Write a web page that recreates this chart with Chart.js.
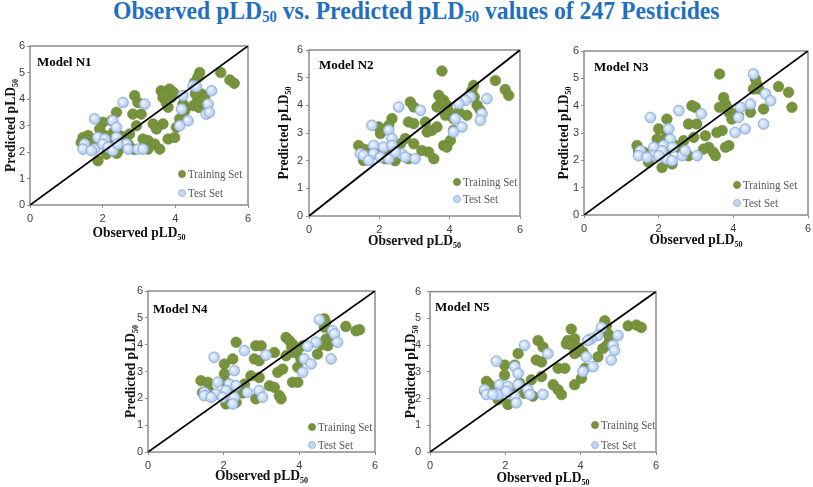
<!DOCTYPE html>
<html><head><meta charset="utf-8">
<script src="https://cdn.jsdelivr.net/npm/chart.js@4"></script>
<style>
html,body{margin:0;padding:0;width:813px;height:487px;overflow:hidden;background:#fff;}
#title{position:absolute;left:10px;top:-2px;width:813px;text-align:center;font:bold 26px "Liberation Serif","Times New Roman",serif;color:#1f70c1;line-height:26px;white-space:nowrap;}
#title .inner{display:inline-block;transform:scaleX(0.91);transform-origin:50% 50%;}
#title sub{font-size:0.62em;vertical-align:baseline;position:relative;top:0.18em;}
canvas{position:absolute;}
</style></head>
<body>
<div id="title"><span class="inner">Observed pLD<sub>50</sub> vs. Predicted pLD<sub>50</sub> values of 247 Pesticides</span></div>
<canvas id="c1"></canvas><canvas id="c2"></canvas><canvas id="c3"></canvas><canvas id="c4"></canvas><canvas id="c5"></canvas>
<script>
// ---------- DATA ----------
const modelNames = ['Model N1','Model N2','Model N3','Model N4','Model N5'];
const xTicks = [0, 2, 4, 6];
const yTicks = [0, 1, 2, 3, 4, 5, 6];
const diagonal = [0, 6];

const n1TrainObs  = [4.67,5.25,5.5,5.62,4.62,4.53,4.72,4.81,4.62,4.49,3.61,3.84,3.66,3.89,3.8,4.21,4.26,4.12,4.03,3.8,3.98,3.39,3.66,3.48,3.25,3.43,3.57,3.25,2.88,2.97,2.83,3.06,2.93,2.74,2.61,2.38,2.24,2.01,1.92,2.06,1.46,1.6,1.41,2.42,2.1,1.87,2.51,2.24,3.11,2.39,2.87,4.65,3.7,3.95,3.75,4.55,4.7,1.55,1.7,2.2,2.5,2.7,2.3];
const n1TrainPred = [5.0,5.0,4.72,4.59,4.82,4.63,4.19,4.06,4.0,3.75,4.31,4.38,4.06,4.06,3.69,3.81,3.56,3.25,2.93,2.49,2.55,3.06,3.06,2.87,2.43,2.3,2.11,2.11,4.13,3.87,3.43,3.43,2.99,2.68,2.43,3.5,3.18,3.12,2.87,2.62,2.55,2.62,2.36,2.05,1.92,1.67,2.18,2.3,2.49,1.95,2.1,3.68,4.2,4.25,3.85,4.2,3.9,2.45,2.3,2.45,2.6,2.3,2.75];
const n1TestObs   = [4.49,4.58,5.0,4.21,4.17,4.9,4.85,4.94,4.35,4.12,3.16,2.56,1.78,2.28,2.38,1.87,2.38,2.06,1.5,1.46,1.78,2.01,2.15,2.28,2.65,2.7,2.97,3.11,1.69,2.42];
const n1TestPred  = [4.5,4.47,4.31,4.13,3.62,3.81,3.43,3.5,3.18,2.99,3.81,3.87,3.25,3.18,2.93,2.55,2.55,2.49,2.3,2.11,2.11,2.3,2.18,2.05,2.3,2.11,2.11,2.11,2.05,2.3];

const n2TrainObs  = [3.78,5.3,5.58,5.68,4.68,4.63,4.59,4.78,4.87,4.49,3.69,3.83,3.92,3.64,4.02,3.88,4.26,4.11,4.11,4.02,3.83,3.92,2.88,2.98,2.83,2.98,3.31,3.5,3.64,3.36,3.21,3.4,3.55,2.83,2.98,2.74,2.36,2.27,1.98,2.03,2.6,1.41,1.55,2.17,1.9,2.45,1.6,3.75,3.95,2.2,2.5,4.7];
const n2TrainPred = [5.24,4.9,4.57,4.36,4.72,4.54,4.3,4.0,3.82,3.64,4.36,4.18,4.0,3.94,3.64,3.64,3.76,3.52,3.1,2.73,2.55,2.49,4.12,3.94,3.4,3.34,3.4,3.1,3.22,3.04,2.37,2.31,2.07,2.07,2.61,2.8,3.52,3.28,3.22,2.98,2.61,2.55,2.01,2.07,2.3,2.0,2.4,4.1,3.85,2.3,2.15,4.3];
const n2TestObs   = [5.06,4.59,4.45,4.26,4.92,4.87,4.16,4.35,4.11,3.17,2.55,1.79,2.27,2.36,1.84,2.12,2.36,1.46,1.55,1.84,2.03,2.27,2.64,2.74,3.02,2.45,1.7];
const n2TestPred  = [4.24,4.3,4.18,4.06,3.7,3.46,3.52,3.22,3.04,3.82,3.94,3.28,3.1,2.8,2.55,2.49,2.55,2.25,2.19,2.25,2.13,2.07,2.25,2.13,2.07,2.31,2.01];

const n3TrainObs  = [3.63,4.59,4.63,4.68,4.54,5.21,5.48,5.57,4.81,4.46,3.74,3.79,3.63,3.88,3.96,4.14,3.7,3.56,3.88,3.79,3.25,3.34,3.47,3.52,3.2,2.89,2.98,2.8,3.02,2.94,2.67,2.22,2.0,2.22,1.96,2.45,1.42,1.46,1.73,2.09,2.36,2.8,3.85,4.05,1.6,2.2,2.6];
const n3TrainPred = [5.16,4.98,4.79,4.61,4.61,4.7,4.49,3.94,3.88,3.76,4.3,4.06,3.94,3.76,3.51,3.63,3.09,3.02,2.54,2.48,2.9,2.48,2.29,2.17,2.41,4.0,3.94,3.33,3.33,2.84,2.72,3.51,3.15,2.9,2.78,2.54,2.54,2.35,1.93,1.74,1.87,2.17,3.9,3.7,2.3,2.3,2.4];
const n3TestObs   = [4.54,4.86,5.0,4.46,4.19,4.14,4.32,4.05,4.81,3.14,2.54,1.78,2.27,2.31,1.87,2.13,2.37,1.51,1.46,1.87,2.09,2.22,2.36,2.63,2.71,3.03,1.69,2.0];
const n3TestPred  = [5.16,4.43,4.18,4.06,3.94,3.57,3.15,3.02,3.33,3.7,3.82,3.57,3.15,2.78,2.48,2.54,2.48,2.35,2.17,2.17,2.35,2.05,1.99,2.17,2.35,2.17,2.11,2.17];

const n4TrainObs  = [4.66,4.7,4.66,5.23,5.5,5.59,4.75,4.84,4.48,3.65,3.74,3.82,3.87,3.65,4.09,4.04,3.96,3.82,3.96,3.43,3.56,3.34,3.21,3.34,3.47,3.52,2.85,2.99,2.81,2.94,2.94,2.72,2.33,2.24,2.02,2.02,2.55,1.4,1.58,1.44,2.06,2.33,2.85,2.06,3.8,3.95,4.7,4.6,1.6,2.2,2.5];
const n4TrainPred = [4.96,4.83,4.65,4.68,4.52,4.56,3.96,4.34,3.65,4.27,4.15,4.02,3.71,3.59,3.96,3.47,3.16,2.6,2.6,2.97,3.09,3.71,2.47,2.41,2.1,1.98,3.96,3.96,3.47,3.4,2.78,2.84,4.09,3.47,3.28,2.91,2.53,2.66,2.6,2.22,1.79,1.85,1.98,2.6,3.9,3.8,4.2,4.0,2.3,2.3,2.2];
const n4TestObs   = [4.53,4.88,4.93,5.01,4.44,4.22,4.84,4.13,4.31,4.09,3.12,2.55,1.75,2.28,1.84,2.15,2.33,1.49,1.49,1.8,2.06,2.28,2.24,2.63,2.94,3.03,1.67,1.97];
const n4TestPred  = [4.93,4.52,4.4,4.09,4.09,3.94,3.47,3.47,3.28,2.97,3.61,3.78,3.53,3.03,2.6,2.53,2.47,2.22,2.1,2.16,2.29,2.04,1.79,2.22,2.29,2.04,2.04,2.04];

const n5TrainObs  = [4.64,4.68,5.26,5.48,5.61,4.73,4.77,4.59,4.46,3.75,3.66,3.84,3.62,3.84,4.06,4.11,4.02,3.84,3.4,3.58,3.27,3.4,3.49,2.87,3.0,2.82,2.96,2.96,2.69,2.34,2.25,1.98,1.98,2.38,1.5,1.58,1.45,1.81,2.07,2.73,3.75,3.95,4.7,1.6,2.2,2.5];
const n5TrainPred = [4.91,4.72,4.72,4.75,4.66,4.42,4.23,3.87,3.56,4.6,4.17,4.23,4.05,3.68,3.74,3.13,2.76,2.52,3.13,3.13,2.52,2.33,2.15,4.17,3.93,3.44,3.37,2.82,2.7,3.68,3.25,3.25,2.88,2.58,2.64,2.52,2.27,1.96,1.78,2.09,4.0,3.9,4.0,2.3,2.3,2.2];
const n5TestObs   = [4.55,4.46,4.28,4.19,4.99,4.86,4.9,4.81,4.15,4.33,4.06,3.13,2.51,1.76,2.25,2.34,1.85,2.07,2.34,1.45,1.5,1.81,2.03,2.25,2.29,2.6,2.65,3.0,1.67];
const n5TestPred  = [4.66,4.36,4.23,4.17,4.36,3.99,3.8,3.44,3.56,3.19,3.01,3.68,3.99,3.4,3.19,2.94,2.52,2.45,2.52,2.33,2.15,2.15,2.27,2.09,1.84,2.33,2.15,2.15,2.15];

const trainObs  = [n1TrainObs, n2TrainObs, n3TrainObs, n4TrainObs, n5TrainObs];
const trainPred = [n1TrainPred, n2TrainPred, n3TrainPred, n4TrainPred, n5TrainPred];
const testObs   = [n1TestObs, n2TestObs, n3TestObs, n4TestObs, n5TestObs];
const testPred  = [n1TestPred, n2TestPred, n3TestPred, n4TestPred, n5TestPred];

// ---------- LAYOUT / STYLE ----------
const SERIF = '"Liberation Serif","Times New Roman",serif';
const SANS = '"Liberation Sans",Arial,sans-serif';
const PL = 36, PB = 36, PT = 10, PR = 10;
const boxes = [
  {l:30,  t:46,  r:248, b:205, lab:[7,16],  yT:20, xT:27, yPad:2, leg:[66,31,12]},
  {l:309, t:50,  r:520, b:216, lab:[10,15], yT:26, xT:24, yPad:3, leg:[63,34,17]},
  {l:584, t:51,  r:808, b:215, lab:[10,16], yT:21, xT:24, yPad:2, leg:[71,30,12]},
  {l:148, t:291, r:375, b:452, lab:[5,18],  yT:18, xT:23, yPad:2, leg:[63,25,7]},
  {l:430, t:289, r:656, b:452, lab:[5,15],  yT:20, xT:25, yPad:6, leg:[61,27,7]}
];
const GREEN = '#77933C', GREEN_B = '#6c8736';
const BLUE = '#c5d7f0', BLUE_B = '#8db0e0';

function drawRich(ctx, parts, cx, cy, size, weight, color, squeeze, angle, align) {
  const subSize = Math.round(size * 0.62);
  ctx.save();
  ctx.translate(cx, cy);
  if (angle) ctx.rotate(angle);
  ctx.scale(squeeze, 1);
  ctx.fillStyle = color;
  ctx.textBaseline = 'alphabetic';
  ctx.textAlign = 'left';
  let total = 0;
  const widths = parts.map(p => {
    ctx.font = `${weight} ${p.sub ? subSize : size}px ${SERIF}`;
    const w = ctx.measureText(p.t).width; total += w; return w;
  });
  let x = align === 'left' ? 0 : -total / 2;
  const base = size * 0.33;
  parts.forEach((p, i) => {
    ctx.font = `${weight} ${p.sub ? subSize : size}px ${SERIF}`;
    ctx.fillText(p.t, x, p.sub ? base + size * 0.2 : base);
    x += widths[i];
  });
  ctx.restore();
}

const decor = {
  id: 'decor',
  beforeDatasetsDraw(chart, args, o) {
    const a = chart.chartArea, ctx = chart.ctx;
    ctx.save();
    ctx.strokeStyle = '#8c8c8c'; ctx.lineWidth = 1.5;
    ctx.strokeRect(a.left, a.top, a.right - a.left, a.bottom - a.top);
    ctx.restore();
  },
  afterDraw(chart, args, o) {
    const a = chart.chartArea, ctx = chart.ctx, bx = o.box;
    drawRich(ctx, [{t: o.model}], a.left + bx.lab[0], a.top + bx.lab[1], 13, 'bold', '#000', 1, 0, 'left');
    drawRich(ctx, [{t:'Observed pLD'}, {t:'50', sub:true}], (a.left + a.right) / 2, a.bottom + bx.xT, 15, 'bold', '#111', 0.9, 0, 'center');
    drawRich(ctx, [{t:'Predicted pLD'}, {t:'50', sub:true}], a.left - bx.yT, (a.top + a.bottom) / 2, 15, 'bold', '#111', 0.9, -Math.PI / 2, 'center');
    const items = chart.data.datasets.filter(d => d.inLegend);
    items.forEach((d, i) => {
      const x = a.right - bx.leg[0], y = a.bottom - bx.leg[1 + i];
      ctx.save();
      ctx.beginPath(); ctx.arc(x, y, 3.5, 0, Math.PI * 2);
      ctx.fillStyle = d.legFill; ctx.fill();
      ctx.lineWidth = 0.8; ctx.strokeStyle = d.legStroke; ctx.stroke();
      ctx.restore();
      drawRich(ctx, [{t: d.label}], x + 6, y, 12.5, 'normal', '#595959', 0.88, 0, 'left');
    });
  }
};

function zip(xs, ys) { return xs.map((x, i) => ({x: x, y: ys[i]})); }

function blueGrad(c) {
  if (!c.parsed) return BLUE;
  const ch = c.chart;
  const px = ch.scales.x.getPixelForValue(c.parsed.x), py = ch.scales.y.getPixelForValue(c.parsed.y);
  if (!isFinite(px) || !isFinite(py)) return BLUE;
  const g = ch.ctx.createRadialGradient(px - 1.5, py - 1.5, 0.5, px, py, 5.8);
  g.addColorStop(0, '#f0f5fc');
  g.addColorStop(1, '#a9c4ea');
  return g;
}

boxes.forEach((bx, k) => {
  const cv = document.getElementById('c' + (k + 1));
  const W = bx.r - bx.l + PL + PR, H = bx.b - bx.t + PT + PB;
  cv.width = W; cv.height = H;
  cv.style.width = W + 'px'; cv.style.height = H + 'px';
  cv.style.left = (bx.l - PL) + 'px'; cv.style.top = (bx.t - PT) + 'px';
  new Chart(cv, {
    type: 'scatter',
    data: {
      datasets: [
        {label: 'diag', data: zip(diagonal, diagonal), showLine: true, pointRadius: 0, borderColor: '#000', borderWidth: 1.8, fill: false, order: 0},
        {label: 'Training Set', inLegend: true, legFill: GREEN, legStroke: GREEN_B, data: zip(trainObs[k], trainPred[k]), pointRadius: 5.3, backgroundColor: GREEN, borderColor: GREEN_B, borderWidth: 0.6, order: 2},
        {label: 'Test Set', inLegend: true, legFill: BLUE, legStroke: BLUE_B, data: zip(testObs[k], testPred[k]), pointRadius: 5.3, backgroundColor: blueGrad, borderColor: BLUE_B, borderWidth: 1, order: 1}
      ]
    },
    options: {
      responsive: false, animation: false, devicePixelRatio: 1, events: [],
      layout: {padding: {top: PT, right: PR, left: 0, bottom: 0}},
      plugins: {legend: {display: false}, tooltip: {enabled: false}, decor: {model: modelNames[k], box: bx}},
      scales: {
        x: {
          type: 'linear', min: 0, max: 6,
          afterBuildTicks: s => { s.ticks = xTicks.map(v => ({value: v})); },
          afterFit: s => { s.height = PB; },
          ticks: {font: {family: SANS, size: 11}, color: '#404040', padding: 4, maxRotation: 0},
          grid: {drawOnChartArea: false, drawTicks: true, tickLength: 3, color: '#8c8c8c'},
          border: {display: false}
        },
        y: {
          type: 'linear', min: 0, max: 6,
          afterBuildTicks: s => { s.ticks = yTicks.map(v => ({value: v})); },
          afterFit: s => { s.width = PL; },
          ticks: {font: {family: SANS, size: 11}, color: '#404040', padding: bx.yPad},
          grid: {drawOnChartArea: false, drawTicks: true, tickLength: 3, color: '#8c8c8c'},
          border: {display: false}
        }
      }
    },
    plugins: [decor]
  });
});
</script>
</body></html>
